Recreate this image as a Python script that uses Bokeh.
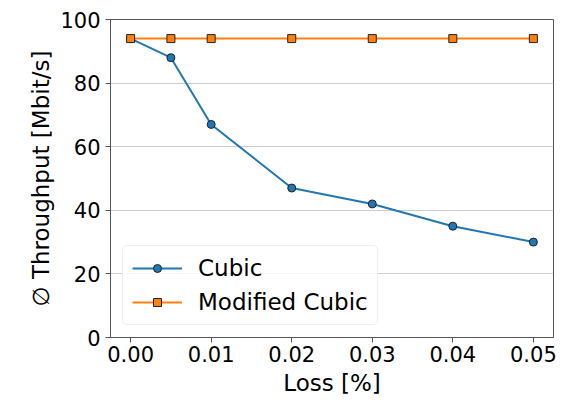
from bokeh.plotting import figure
from bokeh.models import FixedTicker, Range1d, PrintfTickFormatter, Legend, LegendItem
from bokeh.embed import file_html
from bokeh.resources import INLINE

loss = [0.0, 0.005, 0.01, 0.02, 0.03, 0.04, 0.05]
cubic = [94, 88, 67, 47, 42, 35, 30]
modified_cubic = [94, 94, 94, 94, 94, 94, 94]
x_ticks = [0.0, 0.01, 0.02, 0.03, 0.04, 0.05]
y_ticks = [0, 20, 40, 60, 80, 100]

FONT = "DejaVu Sans"

p = figure(width=564, height=402, output_backend="svg", toolbar_location=None,
           x_range=Range1d(-0.0025, 0.0525), y_range=Range1d(0, 100),
           min_border_left=110, min_border_right=11, min_border_top=19, min_border_bottom=65)

p.background_fill_color = "white"
p.border_fill_color = "white"
p.outline_line_color = "#555555"
p.outline_line_width = 1

p.xgrid.visible = False
p.ygrid.grid_line_color = "#cccccc"
p.ygrid.grid_line_width = 1

for ax in (p.xaxis[0], p.yaxis[0]):
    ax.axis_line_color = "#555555"
    ax.major_tick_line_color = "#555555"
    ax.major_tick_out = 5
    ax.major_tick_in = 0
    ax.minor_tick_line_color = None
    ax.major_label_text_font = FONT
    ax.major_label_text_font_size = "21px"
    ax.major_label_text_color = "black"
    ax.axis_label_text_font = FONT
    ax.axis_label_text_font_size = "23px"
    ax.axis_label_text_font_style = "normal"
    ax.axis_label_text_color = "black"

p.xaxis.ticker = FixedTicker(ticks=x_ticks)
p.xaxis.formatter = PrintfTickFormatter(format="%.2f")
p.yaxis.ticker = FixedTicker(ticks=y_ticks)
p.xaxis.axis_label = "Loss [%]"
p.yaxis.axis_label = "\u2205 Throughput [Mbit/s]"
p.xaxis.major_label_standoff = 3
p.xaxis.axis_label_standoff = 5
p.yaxis.axis_label_standoff = 3

l1 = p.line(loss, cubic, line_color="#1f77b4", line_width=2)
m1 = p.scatter(loss, cubic, marker="circle", size=8, fill_color="#1f77b4",
               line_color="#222222", line_width=1)
l2 = p.line(loss, modified_cubic, line_color="#ff7f0e", line_width=2)
m2 = p.scatter(loss, modified_cubic, marker="square", size=8, fill_color="#ff7f0e",
               line_color="#222222", line_width=1)

legend = Legend(items=[LegendItem(label="Cubic", renderers=[l1, m1]),
                       LegendItem(label="Modified Cubic", renderers=[l2, m2])],
                location="bottom_left")
legend.margin = 12
legend.padding = 9
legend.spacing = 8
legend.glyph_width = 50
legend.label_text_font = FONT
legend.label_text_font_size = "23px"
legend.label_text_color = "black"
legend.label_standoff = 16
legend.border_line_color = "#dddddd"
legend.border_line_width = 1
legend.border_radius = 5
legend.background_fill_alpha = 0.8
p.add_layout(legend)

open("out.html", "w").write(file_html(p, INLINE))
